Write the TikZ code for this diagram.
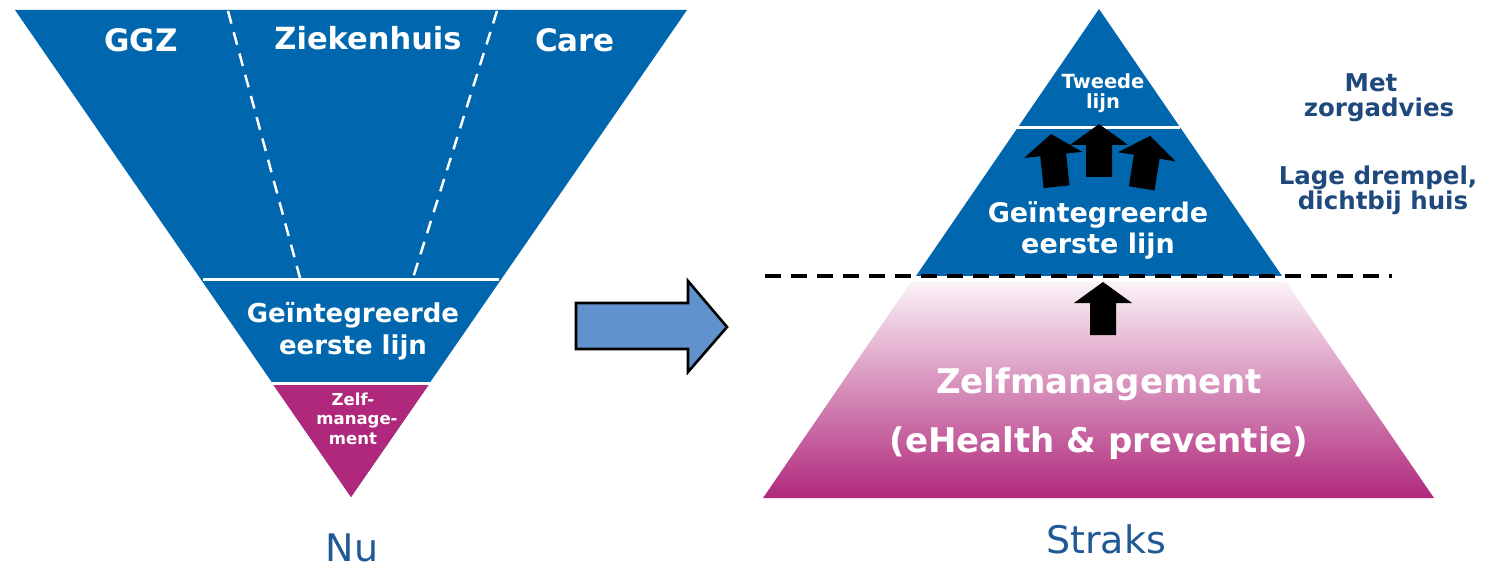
\documentclass[tikz,border=0pt]{standalone}
\usepackage{fontspec}
\setmainfont{DejaVu Sans}
\usetikzlibrary{positioning}

\definecolor{zorgblue}{RGB}{0,102,173}
\definecolor{zorgpink}{RGB}{176,40,124}
\definecolor{lightpink}{RGB}{251,242,247}
\definecolor{shiftblue}{RGB}{96,146,205}
\definecolor{sidenavy}{RGB}{31,73,125}
\definecolor{capblue}{RGB}{31,90,150}

\tikzset{
  lbl/.style={text=white, font=\bfseries, anchor=base, inner sep=0pt},
  side/.style={text=sidenavy, font=\fontsize{24.5}{26}\selectfont\bfseries, anchor=base, inner sep=0pt},
  stagelbl/.style={text=capblue, font=\fontsize{38}{40}\selectfont, anchor=base, inner sep=0pt},
  uparrow/.pic={\fill[black] (0,0) -- (29,21) -- (13,21) -- (13,53) -- (-13,53) -- (-13,21) -- (-29,21) -- cycle;}
}

\begin{document}
\begin{tikzpicture}[x=1pt, y=-1pt]

  \useasboundingbox (0,0) rectangle (1488,569);

  % Nu: upside-down triangle
  \fill[zorgblue] (15,10) -- (687,10) -- (351,497) -- cycle;
  \fill[zorgpink] (272,383) -- (430,383) -- (351,497) -- cycle;
  \draw[white, line width=3pt] (203,280) -- (499,280);
  \draw[white, line width=3pt] (272,383) -- (430,383);
  \draw[white, line width=2.5pt, dash pattern=on 13pt off 9pt] (228,11) -- (300,278);
  \draw[white, line width=2.5pt, dash pattern=on 13pt off 9pt] (497,11) -- (413,278);

  \node[lbl, font=\fontsize{31}{32}\selectfont\bfseries] (ggz)  at (141,52) {GGZ};
  \node[lbl, font=\fontsize{30.5}{32}\selectfont\bfseries] (zkh)  at (368,50) {Ziekenhuis};
  \node[lbl, font=\fontsize{31}{32}\selectfont\bfseries] (care) at (575,52) {Care};

  \node[lbl, font=\fontsize{26}{28}\selectfont\bfseries] (eerstelijnA) at (353,323) {Geïntegreerde};
  \node[lbl, font=\fontsize{26}{28}\selectfont\bfseries] (eerstelijnB) at (353,354) {eerste lijn};

  \node[lbl, font=\fontsize{16.5}{18}\selectfont\bfseries] (zelfA) at (353,405) {Zelf-};
  \node[lbl, font=\fontsize{16.5}{18}\selectfont\bfseries] (zelfB) at (357,424) {manage-};
  \node[lbl, font=\fontsize{16.5}{18}\selectfont\bfseries] (zelfC) at (353,444) {ment};

  \node[stagelbl] (nu) at (352,561) {Nu};

  % shift arrow
  \draw[fill=shiftblue, line width=2.6pt, line join=miter]
    (576,303) -- (688,303) -- (688,281) -- (727,327) -- (688,372) -- (688,349) -- (576,349) -- cycle;

  % Straks: pyramid
  \shade[top color=lightpink, bottom color=zorgpink] (911,282) -- (1286,282) -- (1434,498) -- (763,498) -- cycle;
  \fill[zorgblue] (1099,9) -- (1282,276) -- (916,276) -- cycle;
  \draw[white, line width=3pt] (1017,128) -- (1180,128);

  \node[lbl, font=\fontsize{19.5}{20}\selectfont\bfseries] (tweedeA) at (1103,89) {Tweede};
  \node[lbl, font=\fontsize{19.5}{20}\selectfont\bfseries] (tweedeB) at (1103,109) {lijn};

  \pic[rotate=6]  at (1051,134) {uparrow};
  \pic            at (1099,124) {uparrow};
  \pic[rotate=-9] at (1150,136) {uparrow};
  \pic            at (1103,282) {uparrow};

  \node[lbl, font=\fontsize{27}{28}\selectfont\bfseries] (eerstelijnC) at (1098,223) {Geïntegreerde};
  \node[lbl, font=\fontsize{27}{28}\selectfont\bfseries] (eerstelijnD) at (1098,254) {eerste lijn};

  \draw[black, line width=4pt, dash pattern=on 16pt off 10pt] (765,276) -- (1392,276);

  \node[lbl, font=\fontsize{34}{36}\selectfont\bfseries] (zelfmgmt) at (1099,393) {Zelfmanagement};
  \node[lbl, font=\fontsize{34}{36}\selectfont\bfseries] (ehealth)  at (1099,452) {(eHealth \& preventie)};

  \node[stagelbl] (straks) at (1106,553) {Straks};

  \node[side] (metA)  at (1371,92)  {Met};
  \node[side] (metB)  at (1379,117) {zorgadvies};
  \node[side] (lageA) at (1378,185) {Lage drempel,};
  \node[side] (lageB) at (1383,210) {dichtbij huis};

\end{tikzpicture}
\end{document}
